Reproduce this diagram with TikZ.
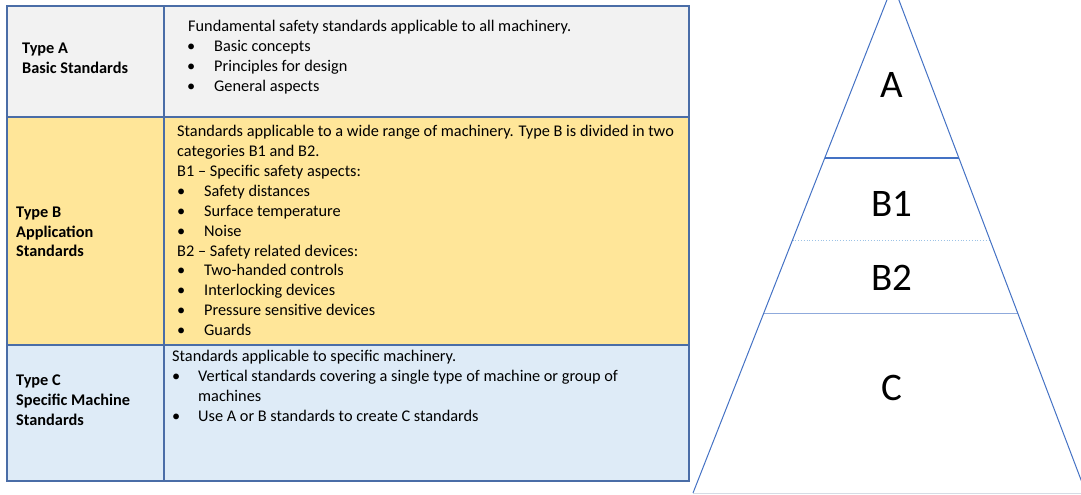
\documentclass[tikz,border=0pt]{standalone}
\usepackage{fontspec}
\setmainfont{Carlito}
\definecolor{bordc}{HTML}{4A6DA7}
\definecolor{fillA}{HTML}{F2F2F2}
\definecolor{fillB}{HTML}{FFE699}
\definecolor{fillC}{HTML}{DEEBF7}
\definecolor{pyr}{HTML}{4472C4}
\definecolor{pyrlight}{HTML}{8FAADC}
\definecolor{pyrdot}{HTML}{9DC3E6}
\definecolor{pyrbase}{HTML}{D6DCE5}
\begin{document}
\begin{tikzpicture}[x=1pt,y=-1pt,
  txt/.style={anchor=west,inner sep=0pt,yshift=-1.5pt,font=\fontsize{16.3}{19}\selectfont,text height=11.5pt,text depth=3pt},
  hd/.style={txt,font=\fontsize{16.3}{19}\selectfont\bfseries},
  bul/.style={txt},
  big/.style={inner sep=0pt,font=\fontsize{39}{42}\selectfont},
  cellline/.style={draw=bordc,line width=1.4pt}]
\useasboundingbox (0,0) rectangle (1081,495);
% table fills
\fill[fillA] (7,6) rectangle (689,117);
\fill[fillB] (7,117) rectangle (689,345);
\fill[fillC] (7,345) rectangle (689,481);
% table grid
\draw[cellline] (7,6) rectangle (689,481);
\draw[cellline] (164,6) -- (164,481);
\draw[cellline] (7,117) -- (689,117);
\draw[cellline] (7,345) -- (689,345);
% Row A
\node[hd] (ha1) at (22,48) {Type A};
\node[hd] (ha2) at (22,68) {Basic Standards};
\node[txt] (ta0) at (188,26) {Fundamental safety standards applicable to all machinery.};
\node[bul] (ba1) at (187,46) {•}; \node[txt] (ta1) at (214,46) {Basic concepts};
\node[bul] (ba2) at (187,66) {•}; \node[txt] (ta2) at (214,66) {Principles for design};
\node[bul] (ba3) at (187,86) {•}; \node[txt] (ta3) at (214,86) {General aspects};
% Row B
\node[hd] (hb1) at (16,212) {Type B};
\node[hd] (hb2) at (16,232) {Application};
\node[hd] (hb3) at (16,251) {Standards};
\node[txt] (tb0) at (177,131) {Standards applicable to a wide range of machinery. Type B is divided in two};
\node[txt] (tb1) at (177,151) {categories B1 and B2.};
\node[txt] (tb2) at (177,171) {B1 – Specific safety aspects:};
\node[bul] (bb3) at (177,191) {•}; \node[txt] (tb3) at (204,191) {Safety distances};
\node[bul] (bb4) at (177,211) {•}; \node[txt] (tb4) at (204,211) {Surface temperature};
\node[bul] (bb5) at (177,231) {•}; \node[txt] (tb5) at (204,231) {Noise};
\node[txt] (tb6) at (177,251) {B2 – Safety related devices:};
\node[bul] (bb7) at (177,270) {•}; \node[txt] (tb7) at (204,270) {Two-handed controls};
\node[bul] (bb8) at (177,290) {•}; \node[txt] (tb8) at (204,290) {Interlocking devices};
\node[bul] (bb9) at (177,310) {•}; \node[txt] (tb9) at (204,310) {Pressure sensitive devices};
\node[bul] (bb10) at (177,330) {•}; \node[txt] (tb10) at (204,330) {Guards};
% Row C
\node[hd] (hc1) at (16,380) {Type C};
\node[hd] (hc2) at (16,400) {Specific Machine};
\node[hd] (hc3) at (16,420) {Standards};
\node[txt] (tc0) at (172,356) {Standards applicable to specific machinery.};
\node[bul] (bc1) at (172,376) {•}; \node[txt] (tc1) at (198,376) {Vertical standards covering a single type of machine or group of};
\node[txt] (tc2) at (198,396) {machines};
\node[bul] (bc3) at (172,416) {•}; \node[txt] (tc3) at (198,416) {Use A or B standards to create C standards};
% Pyramid
\begin{scope}
\clip (0,0) rectangle (1081,495);
\draw[pyrbase,line width=1pt] (693,493) -- (1081,493);
\draw[pyrdot,line width=0.8pt,dotted] (792.5,240) -- (990,240);
\draw[pyrlight,line width=1pt] (764,313) -- (1017.6,313);
\draw[pyr,line width=1pt] (693,493) -- (893,-15.5) -- (1086,493);
\draw[pyr,line width=1.6pt] (824.8,158) -- (958.9,158);
\end{scope}
\node[big] (lA) at (892,85) {A};
\node[big] (lB1) at (892,204) {B1};
\node[big] (lB2) at (892,278) {B2};
\node[big] (lC) at (892,388) {C};
\end{tikzpicture}
\end{document}
